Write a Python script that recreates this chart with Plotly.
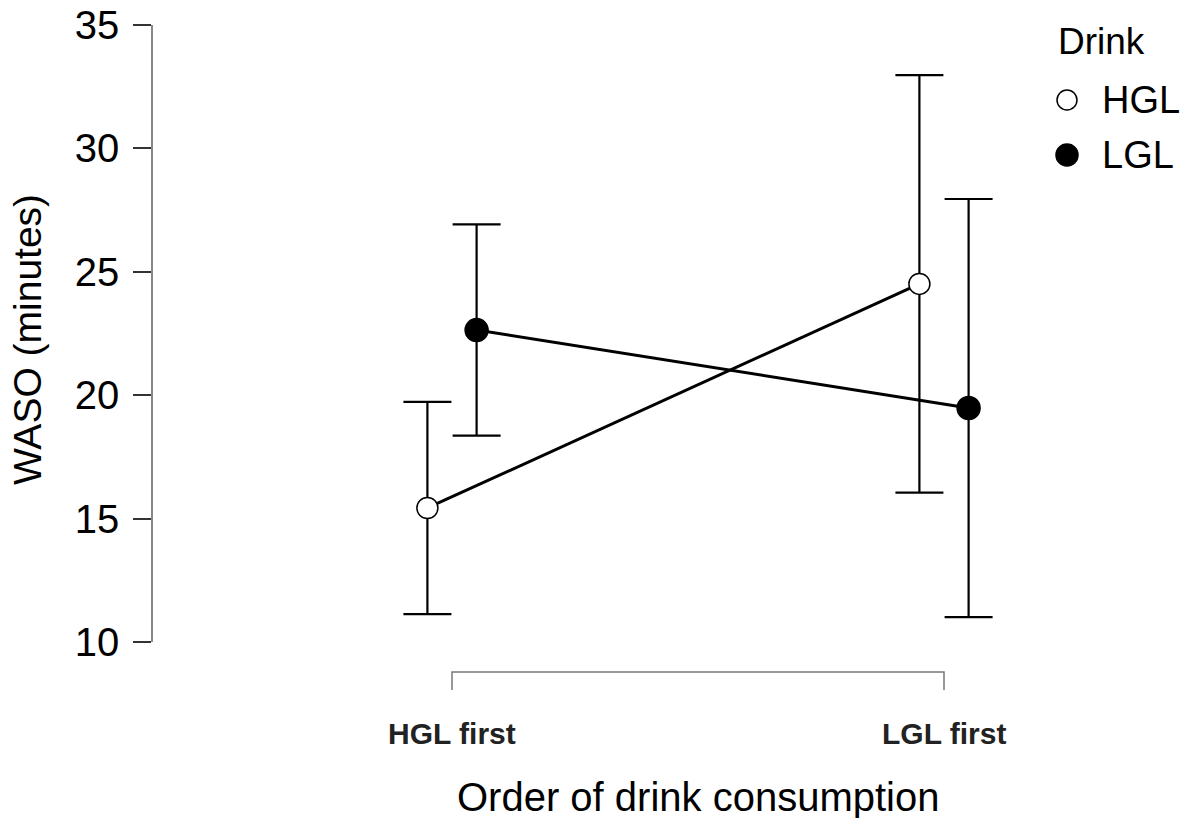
import plotly.graph_objects as go

# ---- data ----
categories = ["HGL first", "LGL first"]
drinks = ["HGL", "LGL"]
hgl_mean = [15.43, 24.51]
hgl_err = [4.30, 8.46]
lgl_mean = [22.64, 19.48]
lgl_err = [4.28, 8.47]
y_ticks = [10, 15, 20, 25, 30, 35]

x_title = "Order of drink consumption"
y_title = "WASO (minutes)"
legend_title = "Drink"

FONT = "Liberation Sans, Arial, sans-serif"
pos = [1, 2]
dodge = 0.05

plot_top, plot_bot, plot_left, plot_right = 25, 642, 153, 1040
H = plot_bot - plot_top
W = plot_right - plot_left

def py(px):
    return (plot_bot - px) / H

def pxx(px):
    return (px - plot_left) / W

fig = go.Figure()

series = [
    (drinks[0], hgl_mean, hgl_err, "white", -dodge, 21),
    (drinks[1], lgl_mean, lgl_err, "black", dodge, 23),
]

for name, mean, err, fill, off, msize in series:
    xs = [p + off for p in pos]
    fig.add_trace(go.Scatter(
        x=xs, y=mean, mode="lines+markers", name=name, showlegend=False,
        line=dict(color="black", width=3),
        marker=dict(size=msize, color=fill, line=dict(color="black", width=1.5)),
        error_y=dict(type="data", array=err, visible=True, color="black",
                     thickness=2.2, width=24),
        cliponaxis=False,
    ))

# legend drawn manually (large symbols)
fig.add_annotation(x=pxx(1056), y=py(42), xref="paper", yref="paper", text=legend_title,
                   showarrow=False, xanchor="left", yanchor="middle",
                   font=dict(family=FONT, size=37, color="black"))
leg_y = [100, 155]
leg_size = [20, 22]
for (name, mean, err, fill, off, msize), ly, ls in zip(series, leg_y, leg_size):
    fig.add_shape(type="circle", xref="paper", yref="paper",
                  xsizemode="pixel", ysizemode="pixel",
                  xanchor=pxx(1067), yanchor=py(ly),
                  x0=-ls / 2, x1=ls / 2, y0=-ls / 2, y1=ls / 2,
                  fillcolor=fill, line=dict(color="black", width=1.5))
    fig.add_annotation(x=pxx(1100), y=py(ly), xref="paper", yref="paper", text=name,
                       showarrow=False, xanchor="left", yanchor="middle",
                       font=dict(family=FONT, size=38, color="black"))

# x-axis bracket
fig.add_shape(type="path", xref="x", yref="paper",
              path=f"M {pos[0]},{py(690)} L {pos[0]},{py(672)} L {pos[1]},{py(672)} L {pos[1]},{py(690)}",
              line=dict(color="#777777", width=1.5))

for p, c in zip(pos, categories):
    fig.add_annotation(x=p, y=py(733), xref="x", yref="paper", text=f"<b>{c}</b>",
                       showarrow=False, xanchor="center", yanchor="middle",
                       font=dict(family="Liberation Sans Narrow, Arial Narrow, Liberation Sans, sans-serif",
                                 size=30, color="#222222"))

fig.add_annotation(x=(pos[0] + pos[1]) / 2, y=py(797), xref="x", yref="paper", text=x_title,
                   showarrow=False, xanchor="center", yanchor="middle",
                   font=dict(family=FONT, size=40, color="black"))

fig.add_annotation(x=pxx(27), y=py(340), xref="paper", yref="paper",
                   text=y_title, textangle=-90, showarrow=False, xanchor="center", yanchor="middle",
                   font=dict(family=FONT, size=39, color="black"))

x0 = pos[0] - (452 - plot_left) / 492
x1 = x0 + W / 492

fig.update_layout(
    width=1189, height=818,
    margin=dict(l=plot_left, r=1189 - plot_right, t=plot_top, b=818 - plot_bot),
    plot_bgcolor="white", paper_bgcolor="white",
    font=dict(family=FONT, color="black"),
    showlegend=False,
    xaxis=dict(range=[x0, x1], visible=False, automargin=False),
    yaxis=dict(range=[10, 35], tickvals=y_ticks, ticks="outside", ticklen=18,
               tickcolor="#333333", tickwidth=1.5, showline=True, linecolor="#888888",
               linewidth=1.5, showgrid=False, zeroline=False, automargin=False,
               tickfont=dict(family=FONT, size=40, color="black"),
               ticklabelstandoff=6),
)

fig.write_html("out.html")
